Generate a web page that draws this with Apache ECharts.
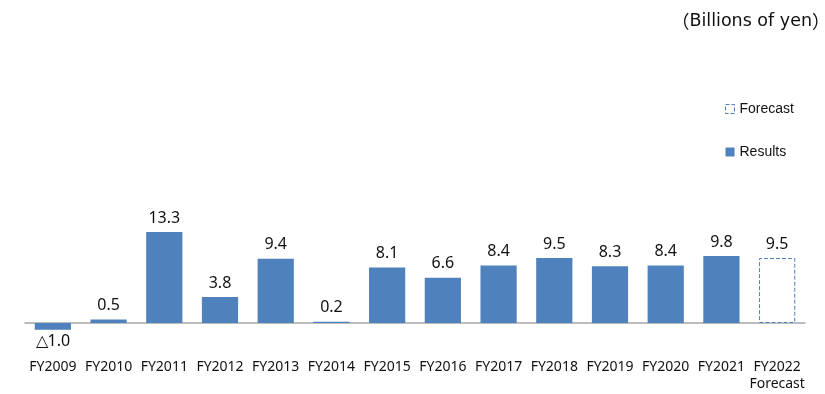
<!DOCTYPE html>
<html>
<head>
<meta charset="utf-8">
<script src="https://cdn.jsdelivr.net/npm/echarts@6/dist/echarts.min.js"></script>
<style>html,body{margin:0;padding:0;background:#fff;}#c{width:825px;height:394px;}</style>
</head>
<body>
<div id="c"></div>
<script>
const categories = ['FY2009','FY2010','FY2011','FY2012','FY2013','FY2014','FY2015','FY2016','FY2017','FY2018','FY2019','FY2020','FY2021','FY2022\nForecast'];
const results = [-1.0, 0.5, 13.3, 3.8, 9.4, 0.2, 8.1, 6.6, 8.4, 9.5, 8.3, 8.4, 9.8, null];
const forecast = [null, null, null, null, null, null, null, null, null, null, null, null, null, 9.5];
const unitText = 'Billions of yen';

const BLUE = '#4F81BD';
const fmt = v => v < 0 ? '△' + Math.abs(v).toFixed(1) : v.toFixed(1);
const labelStyle = {show: true, position: 'top', distance: 6, color: '#111', fontFamily: 'Noto Sans', fontSize: 16, formatter: p => fmt(p.value)};

const chart = echarts.init(document.getElementById('c'), null, {renderer: 'canvas'});
chart.setOption({
  animation: false,
  backgroundColor: '#fff',
  title: {
    text: '{p|（}{t|' + unitText + '}{p|）}', right: -10, top: 7,
    textStyle: {
      fontWeight: 'normal',
      rich: {
        p: {fontFamily: 'Noto Sans CJK JP', fontSize: 18, fontWeight: 'normal', color: '#111'},
        t: {fontFamily: 'DejaVu Sans', fontSize: 17.5, fontWeight: 'normal', color: '#111'}
      }
    }
  },
  legend: {
    orient: 'vertical', left: 720, top: 97, itemGap: 29, itemWidth: 9, itemHeight: 9, itemTextGap: 4,
    textStyle: {fontFamily: 'Liberation Sans', fontSize: 14, color: '#111'},
    data: [
      {name: 'Forecast', icon: 'rect', itemStyle: {color: '#fff', borderColor: BLUE, borderWidth: 1, borderType: 'dashed'}},
      {name: 'Results', icon: 'rect', itemStyle: {color: BLUE}}
    ]
  },
  grid: {left: 25, right: 20, top: 186.2, bottom: 57.3, containLabel: false, outerBoundsMode: 'none'},
  xAxis: {
    type: 'category', data: categories,
    axisLine: {onZero: true, lineStyle: {color: '#a6a6a6', width: 1.5}},
    axisTick: {show: false},
    axisLabel: {interval: 0, margin: 22, color: '#111', fontFamily: 'Noto Sans', fontSize: 14, lineHeight: 17, verticalAlign: 'top'}
  },
  yAxis: {type: 'value', min: -2, max: 20, show: false, splitLine: {show: false}},
  series: [
    {
      name: 'Results', type: 'bar', barWidth: '65%', barGap: '-100%',
      itemStyle: {color: BLUE},
      label: labelStyle,
      data: results.map(v => v === null ? null : (v < 0 ? {value: v, label: {position: 'bottom', distance: 4}} : v))
    },
    {
      name: 'Forecast', type: 'bar', barWidth: '65%', barGap: '-100%',
      itemStyle: {color: '#fff', borderColor: BLUE, borderWidth: 1, borderType: 'dashed'},
      label: labelStyle,
      data: forecast
    }
  ]
});
</script>
</body>
</html>
